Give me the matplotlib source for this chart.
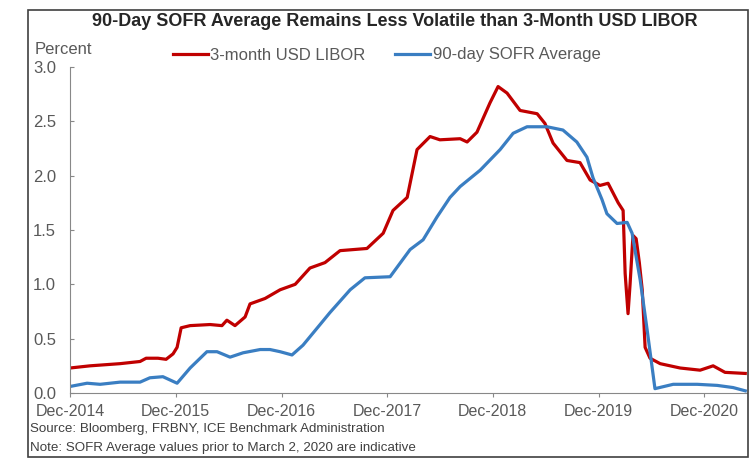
import pandas as pd
import matplotlib
matplotlib.use('Agg')
import matplotlib.pyplot as plt
import matplotlib.dates as mdates
from matplotlib.patches import Rectangle

plt.rcParams['font.family'] = ['Liberation Sans', 'DejaVu Sans']

# 3-month USD LIBOR (percent)
libor_dates = ['2014-12-01', '2015-02-08', '2015-05-23', '2015-07-31', '2015-08-21',
               '2015-10-01', '2015-10-29', '2015-11-22', '2015-12-06', '2015-12-20',
               '2016-01-20', '2016-03-29', '2016-05-09', '2016-05-26', '2016-06-23',
               '2016-07-28', '2016-08-14', '2016-10-05', '2016-11-26', '2017-01-17',
               '2017-03-09', '2017-04-30', '2017-06-21', '2017-09-22', '2017-11-17',
               '2017-12-21', '2018-02-08', '2018-03-14', '2018-04-28', '2018-06-01',
               '2018-08-10', '2018-09-03', '2018-10-07', '2018-11-21', '2018-12-19',
               '2019-01-19', '2019-03-05', '2019-05-03', '2019-05-30', '2019-06-27',
               '2019-08-14', '2019-09-28', '2019-11-02', '2019-12-06', '2020-01-03',
               '2020-02-07', '2020-02-24', '2020-03-02', '2020-03-12', '2020-03-19',
               '2020-03-29', '2020-04-09', '2020-04-20', '2020-04-30', '2020-05-10',
               '2020-05-27', '2020-07-01', '2020-09-08', '2020-11-16', '2020-12-31',
               '2021-02-10', '2021-04-21']
libor_values = [0.23, 0.25, 0.27, 0.29, 0.32,
                0.32, 0.31, 0.36, 0.42, 0.60,
                0.62, 0.63, 0.62, 0.67, 0.62,
                0.70, 0.82, 0.87, 0.95, 1.00,
                1.15, 1.20, 1.31, 1.33, 1.47,
                1.68, 1.80, 2.24, 2.36, 2.33,
                2.34, 2.31, 2.40, 2.67, 2.82,
                2.76, 2.60, 2.57, 2.48, 2.30,
                2.14, 2.12, 1.96, 1.91, 1.93,
                1.75, 1.68, 1.10, 0.73, 1.00,
                1.45, 1.42, 1.20, 0.95, 0.42,
                0.32, 0.27, 0.23, 0.21, 0.25,
                0.19, 0.18]

# 90-day SOFR average (percent)
sofr_dates = ['2014-12-01', '2015-01-29', '2015-03-15', '2015-05-23', '2015-07-31',
              '2015-09-03', '2015-10-18', '2015-12-06', '2016-01-20', '2016-03-18',
              '2016-04-22', '2016-06-06', '2016-07-21', '2016-09-18', '2016-10-22',
              '2016-11-26', '2017-01-06', '2017-02-13', '2017-04-13', '2017-05-17',
              '2017-07-26', '2017-09-15', '2017-12-11', '2018-02-18', '2018-04-04',
              '2018-05-22', '2018-07-06', '2018-08-10', '2018-10-18', '2018-12-26',
              '2019-02-09', '2019-03-29', '2019-06-06', '2019-07-31', '2019-09-17',
              '2019-10-22', '2019-11-12', '2019-12-13', '2019-12-30', '2020-02-03',
              '2020-03-09', '2020-03-26', '2020-04-23', '2020-05-17', '2020-06-13',
              '2020-08-15', '2020-11-06', '2021-01-14', '2021-03-10', '2021-04-21']
sofr_values = [0.06, 0.09, 0.08, 0.10, 0.10,
               0.14, 0.15, 0.09, 0.23, 0.38,
               0.38, 0.33, 0.37, 0.40, 0.40,
               0.38, 0.35, 0.44, 0.63, 0.74,
               0.95, 1.06, 1.07, 1.32, 1.41,
               1.62, 1.80, 1.90, 2.05, 2.24,
               2.39, 2.45, 2.45, 2.42, 2.31,
               2.17, 1.98, 1.78, 1.65, 1.56,
               1.57, 1.47, 1.04, 0.58, 0.04,
               0.08, 0.08, 0.07, 0.05, 0.02]

tick_dates = ['2014-12-01', '2015-12-01', '2016-12-01', '2017-12-01',
              '2018-12-01', '2019-12-01', '2020-12-01']

gray = '#595959'

fig = plt.figure(figsize=(7.52, 4.59), dpi=100)
ax = fig.add_axes([70 / 752, 1 - 393 / 459, 677 / 752, 326 / 459])

ax.plot(pd.to_datetime(libor_dates), libor_values, color='#C00000', lw=2.3,
        label='3-month USD LIBOR')
ax.plot(pd.to_datetime(sofr_dates), sofr_values, color='#3A7EC2', lw=2.3,
        label='90-day SOFR Average')

ax.set_xlim(pd.Timestamp('2014-12-01'), pd.Timestamp('2021-04-27'))
ax.set_ylim(0, 3)
ax.set_yticks([0, 0.5, 1.0, 1.5, 2.0, 2.5, 3.0])
ax.set_yticklabels(['0.0', '0.5', '1.0', '1.5', '2.0', '2.5', '3.0'])
ax.set_xticks(pd.to_datetime(tick_dates))
ax.xaxis.set_major_formatter(mdates.DateFormatter('Dec-%Y'))

for s in ['top', 'right']:
    ax.spines[s].set_visible(False)
for s in ['left', 'bottom']:
    ax.spines[s].set_color('#888888')
ax.tick_params(axis='y', direction='in', length=3, color='#888888',
               labelsize=12, labelcolor=gray, pad=10)
ax.tick_params(axis='x', direction='out', length=3, color='#888888',
               labelsize=11.5, labelcolor=gray, pad=5)

fig.text(0.525, 1 - 21 / 459, '90-Day SOFR Average Remains Less Volatile than 3-Month USD LIBOR',
         ha='center', va='center', fontsize=13, fontweight='bold', color='#262626')
fig.text(35 / 752, 1 - 50 / 459, 'Percent', ha='left', va='center',
         fontsize=12, color=gray)
fig.legend(loc='center', bbox_to_anchor=(0.514, 1 - 55 / 459), ncol=2,
           frameon=False, fontsize=12, handlelength=2.1, handletextpad=0.15,
           columnspacing=1.8, labelcolor=gray)

fig.text(30 / 752, 1 - 429 / 459, 'Source: Bloomberg, FRBNY, ICE Benchmark Administration',
         ha='left', va='center', fontsize=9.6, color='#404040')
fig.text(30 / 752, 1 - 448 / 459, 'Note: SOFR Average values prior to March 2, 2020 are indicative',
         ha='left', va='center', fontsize=9.6, color='#404040')

fig.patches.append(Rectangle((28 / 752, 1 - 457 / 459), 720 / 752, 447 / 459,
                             transform=fig.transFigure, fill=False,
                             edgecolor='#404040', lw=1.2))

fig.savefig('out.png', dpi=100)
